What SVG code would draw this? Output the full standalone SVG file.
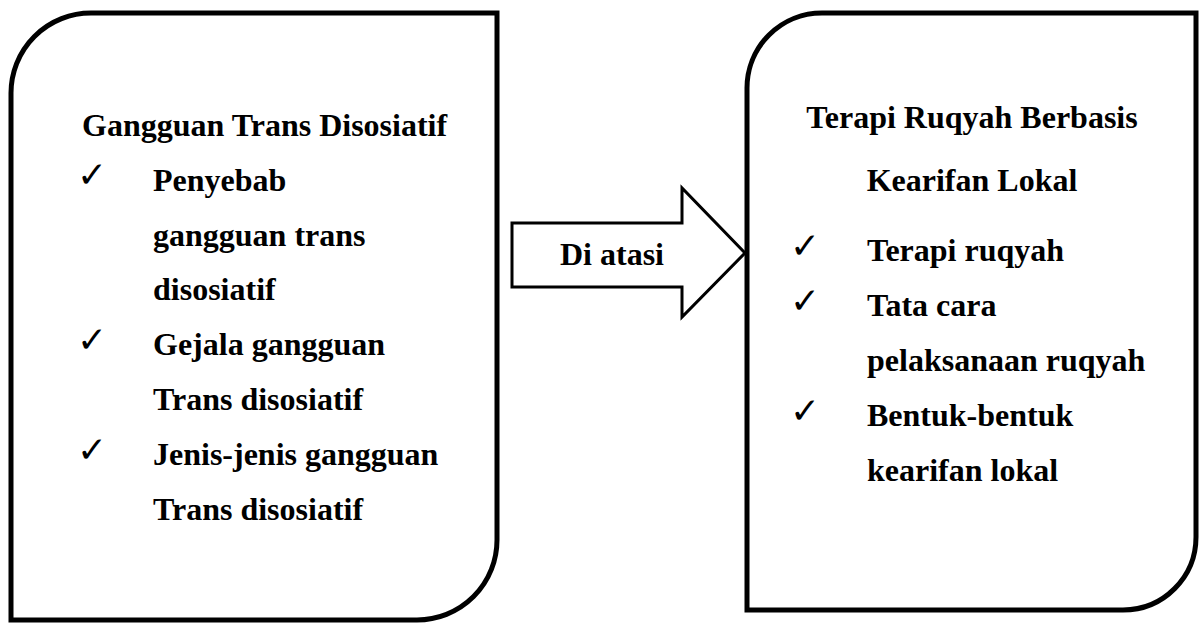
<svg xmlns="http://www.w3.org/2000/svg" width="1199" height="624" viewBox="0 0 1199 624">
<style>
.box{fill:#fff;stroke:#000;stroke-width:5}
.arrow{fill:#fff;stroke:#000;stroke-width:3;stroke-linejoin:miter}
.t{font-family:"Liberation Serif","Times New Roman",serif;font-weight:bold;font-size:32px;fill:#000}
.ck{font-family:"DejaVu Sans",sans-serif;font-size:36px;fill:#000}
</style>
<rect width="1199" height="624" fill="#fff"/>
<g id="node-gangguan">
<path class="box" d="M11,93 A80,80 0 0 1 91,13 L497,13 L497,540 A80,80 0 0 1 417,620 L11,620 Z"/>
<text class="t" x="82" y="136">Gangguan Trans Disosiatif</text>
<text class="ck" x="77" y="187">✓</text>
<text class="t" x="153" y="191">Penyebab</text>
<text class="t" x="153" y="246">gangguan trans</text>
<text class="t" x="153" y="300">disosiatif</text>
<text class="ck" x="77" y="352">✓</text>
<text class="t" x="153" y="355">Gejala gangguan</text>
<text class="t" x="153" y="410">Trans disosiatif</text>
<text class="ck" x="77" y="462">✓</text>
<text class="t" x="153" y="465">Jenis-jenis gangguan</text>
<text class="t" x="153" y="520">Trans disosiatif</text>
</g>
<g id="node-terapi">
<path class="box" d="M747,88 A75,75 0 0 1 822,13 L1196,13 L1196,537 A73,73 0 0 1 1123,610 L747,610 Z"/>
<text class="t" x="972" y="128" text-anchor="middle">Terapi Ruqyah Berbasis</text>
<text class="t" x="972" y="191" text-anchor="middle">Kearifan Lokal</text>
<text class="ck" x="790" y="258">✓</text>
<text class="t" x="867" y="261">Terapi ruqyah</text>
<text class="ck" x="790" y="313">✓</text>
<text class="t" x="867" y="316">Tata cara</text>
<text class="t" x="867" y="371">pelaksanaan ruqyah</text>
<text class="ck" x="790" y="423">✓</text>
<text class="t" x="867" y="426">Bentuk-bentuk</text>
<text class="t" x="867" y="481">kearifan lokal</text>
</g>
<g id="connectors">
<g id="arrow-di-atasi">
<polygon class="arrow" points="512,223 682,223 682,188 745,253 682,317 682,287 512,287"/>
<text class="t" x="612" y="265" text-anchor="middle">Di atasi</text>
</g>
</g>
</svg>
